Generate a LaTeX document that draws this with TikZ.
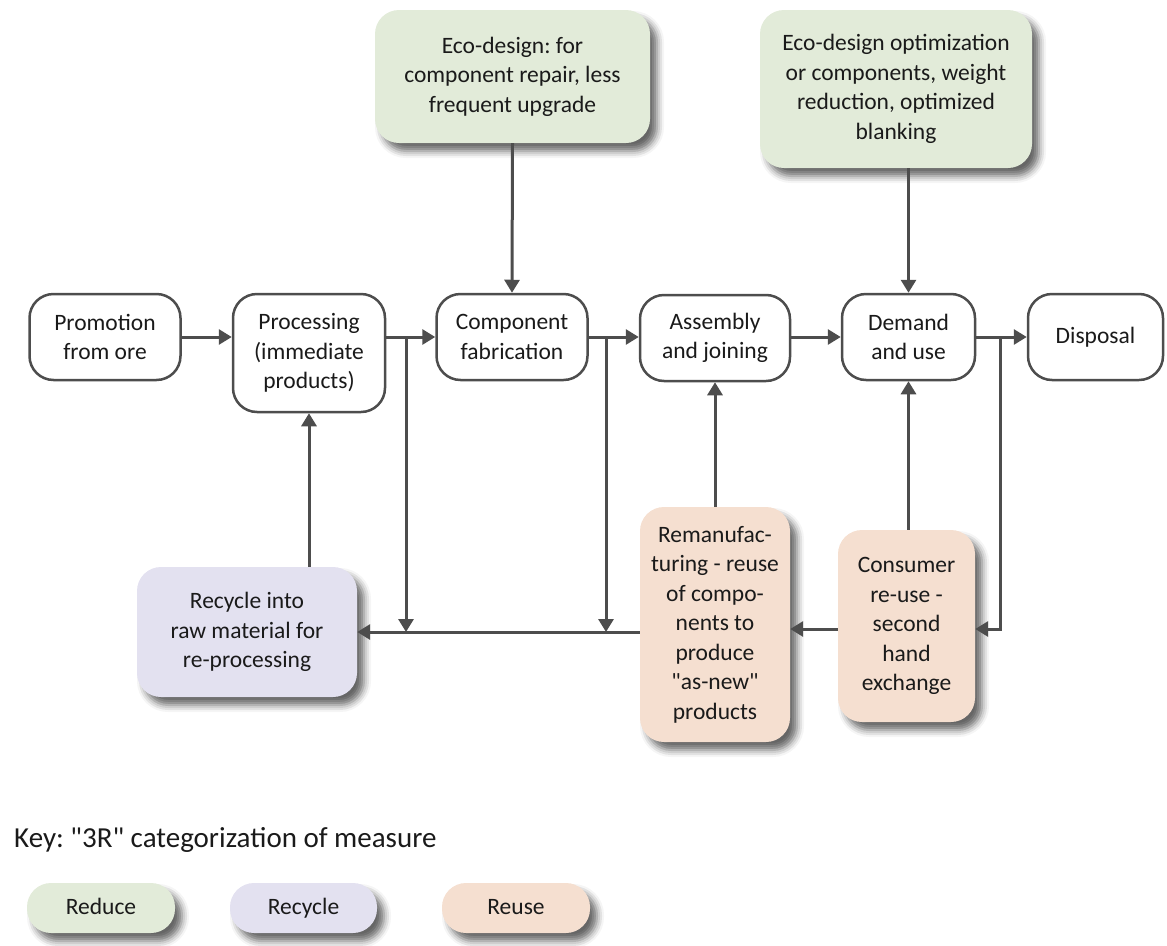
\documentclass[tikz,border=0pt]{standalone}
\usepackage{fontspec}
\setmainfont{Carlito}[Ligatures=TeXOff]
\frenchspacing
\usetikzlibrary{arrows.meta,shadows.blur,calc}
\definecolor{edgeC}{HTML}{4D4D4D}
\definecolor{reduceC}{HTML}{E2EBD9}
\definecolor{recycleC}{HTML}{E3E1F0}
\definecolor{reuseC}{HTML}{F5DFD0}
\definecolor{inkC}{HTML}{1A1A1A}
\begin{document}
\begin{tikzpicture}[x=1pt,y=-1pt,
  every node/.style={font=\fontsize{23.5}{29.5}\selectfont, text=inkC, align=center, inner sep=0pt},
  stepbox/.style={draw=edgeC, line width=2.5pt, rounded corners=24pt, fill=white},
  softshadow/.style={blur shadow={shadow xshift=7pt, shadow yshift=-8pt, shadow blur radius=7pt, shadow opacity=60}},
  reducebox/.style={fill=reduceC, rounded corners=24pt, softshadow},
  recyclebox/.style={fill=recycleC, rounded corners=24pt, softshadow},
  reusebox/.style={fill=reuseC, rounded corners=24pt, softshadow},
  oneline/.style={text height=17pt, text depth=4pt},
  conn/.style={draw=edgeC, line width=3pt},
  arr/.style={conn, -{Triangle[length=13pt,width=15pt]}}
]
\useasboundingbox (0,0) rectangle (1167,945);

% main row
\node[stepbox, minimum width=151pt, minimum height=86pt] (promo) at (105,337) {Promotion\\from ore};
\node[stepbox, minimum width=152pt, minimum height=118pt] (procn) at (309,353) {Processing\\(immediate\\products)};
\node[stepbox, minimum width=151pt, minimum height=86pt] (comp) at (512,337) {Component\\fabrication};
\node[stepbox, minimum width=150pt, minimum height=86pt] (asm) at (715,338) {Assembly\\and joining};
\node[stepbox, minimum width=133pt, minimum height=86pt] (dem) at (908.5,337) {Demand\\and use};
\node[stepbox, oneline, minimum width=135pt, minimum height=86pt] (disp) at (1095.5,337) {Disposal};

% reduce measures
\node[reducebox, minimum width=275pt, minimum height=133pt] (eco1) at (512.5,76.5) {Eco-design: for\\component repair, less\\frequent upgrade};
\node[reducebox, minimum width=272pt, minimum height=158pt] (eco2) at (896,89) {Eco-design optimization\\or components, weight\\reduction, optimized\\blanking};

% recycle / reuse measures
\node[recyclebox, minimum width=220pt, minimum height=130pt] (recyc) at (247,632) {Recycle into\\raw material for\\re-processing};
\node[reusebox, minimum width=150pt, minimum height=235pt] (reman) at (715,624.5) {Remanufac-\\turing - reuse\\of compo-\\nents to\\produce\\"as-new"\\products};
\node[reusebox, minimum width=137pt, minimum height=192pt] (cons) at (906.5,626) {Consumer\\re-use -\\second\\hand\\exchange};

% junctions
\coordinate (j1) at (406,337);
\coordinate (j2) at (606,337);
\coordinate (j3) at (1000,337);
\coordinate (bus) at (0,632);
\coordinate (bus2) at (0,629);

% connectors
\draw[arr] (promo.east) -- (promo.east -| procn.west);
\draw[arr] (procn.east |- promo.east) -- (comp.west);
\draw[arr] (comp.east) -- (comp.east -| asm.west);
\draw[arr] (asm.east |- promo.east) -- (dem.west);
\draw[arr] (dem.east) -- (disp.west);
\draw[arr] (j1) -- (j1 |- bus);
\draw[arr] (j2) -- (j2 |- bus);
\draw[arr] (reman.west |- bus) -- (recyc.east |- bus);
\draw[arr] (j3) -- (j3 |- bus2) -- (cons.east |- bus2);
\draw[arr] (cons.west |- bus2) -- (reman.east |- bus2);
\draw[arr] (eco1.south) -- (comp.north);
\draw[arr] (eco2.south -| dem.north) -- (dem.north);
\draw[arr] (recyc.north -| procn.south) -- (procn.south);
\draw[arr] (reman.north) -- (asm.south);
\draw[arr] (cons.north -| dem.south) -- (dem.south);

% key
\node[anchor=west, font=\fontsize{29}{35}\selectfont] (keytxt) at (14,840) {Key: "3R" categorization of measure};
\node[reducebox, oneline, minimum width=148pt, minimum height=50pt] (kreduce) at (101,908) {Reduce};
\node[recyclebox, oneline, minimum width=147pt, minimum height=50pt] (krecycle) at (303.5,908) {Recycle};
\node[reusebox, oneline, minimum width=148pt, minimum height=50pt] (kreuse) at (516,908) {Reuse};
\end{tikzpicture}
\end{document}
